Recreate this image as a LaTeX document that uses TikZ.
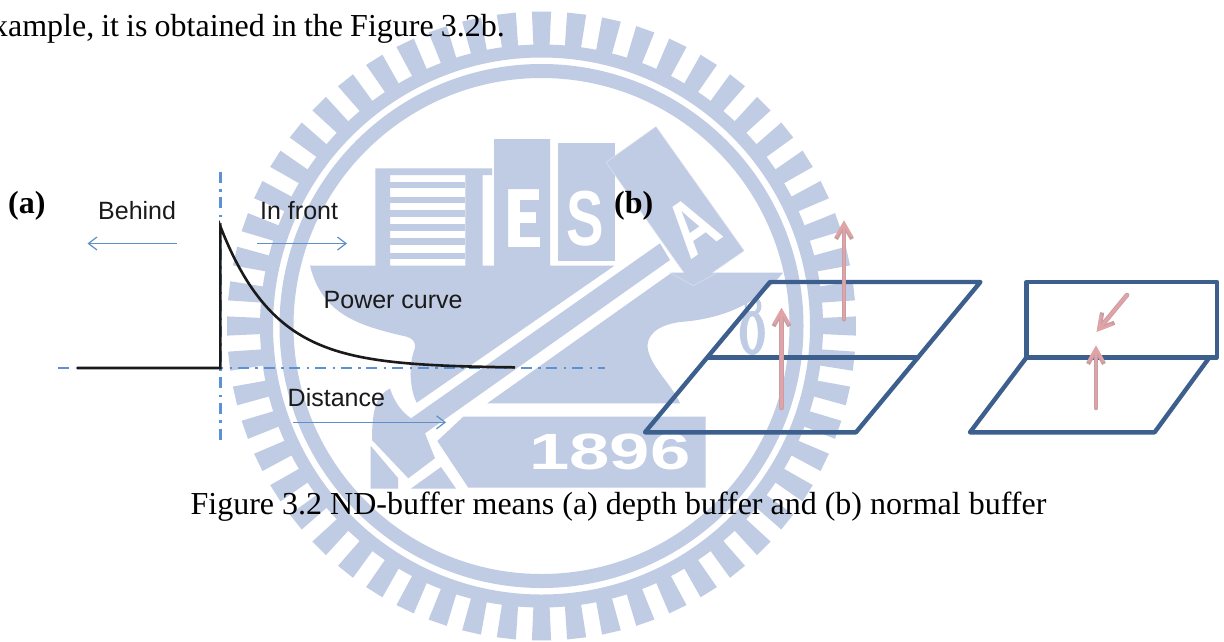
\documentclass[tikz,border=0pt]{standalone}
\usepackage{fontspec}
\setmainfont{Liberation Serif}
\newfontfamily\hvfont{Liberation Sans}
\usetikzlibrary{arrows.meta}
\definecolor{wm}{HTML}{C0CCE4}
\definecolor{wmedge}{HTML}{D6DEEE}
\definecolor{axisblue}{HTML}{5B92D6}
\definecolor{thinblue}{HTML}{5F8FC8}
\definecolor{planeblue}{HTML}{3D5F8E}
\definecolor{pinkedge}{HTML}{C79EA4}
\definecolor{pinkcore}{HTML}{E2A3A6}
\definecolor{ink}{HTML}{1A1A1A}
\tikzset{
  x=1pt,y=-1pt,
  wmletter/.style={text=white,inner sep=0pt,font=\hvfont\bfseries\fontsize{#1}{#1}\selectfont},
  body/.style={inner sep=0pt,text=black,font=\fontsize{32}{32}\selectfont},
  tag/.style={inner sep=0pt,text=black,font=\bfseries\fontsize{32}{32}\selectfont},
  sanslabel/.style={inner sep=0pt,text=ink,font=\hvfont\fontsize{25}{25}\selectfont},
  axisline/.style={draw=axisblue,line width=2.4pt,dash pattern=on 11pt off 6.5pt on 2.5pt off 5.7pt},
  dirarrow/.style={draw=thinblue,line width=1.2pt,-{Straight Barb[length=8.5pt,width=13pt,line width=1.2pt]}},
  curveline/.style={draw=ink,line width=2.6pt,line join=miter},
  plane/.style={draw=planeblue,line width=4.4pt,line join=round,line cap=round},
  normaledge/.style={draw=pinkedge,line width=4.6pt,line cap=round,-{Straight Barb[length=14pt,width=16pt,line width=4.2pt]}},
  normalcore/.style={draw=pinkcore,line width=2.8pt,line cap=round,-{Straight Barb[length=13pt,width=15pt,line width=2.6pt]}},
}
\begin{document}
\begin{tikzpicture}
\useasboundingbox (0,0) rectangle (1224,641);
\clip (0,0) rectangle (1224,641);
\fill[white] (0,0) rectangle (1224,641);

% ---- watermark seal ----
\begin{scope}[shift={(541.5,326)}]
  \draw[wm,line width=14pt] (0,0) circle[radius=255];
  \draw[wm,line width=13pt] (0,0) circle[radius=275];
  \foreach \k in {0,...,55}{
    \pgfmathsetmacro{\a}{90+\k*6.42857}
    \fill[wm] ({\a-1.65}:281) -- ({\a-1.75}:314.5) -- ({\a+1.75}:314.5) -- ({\a+1.65}:281) -- cycle;
  }
\end{scope}
% building
\fill[wm] (375.3,168.3) -- (492,168.3) -- (492,175) -- (482.7,175) -- (482.7,268) -- (465.3,268) -- (465.3,175) -- (390,175) -- (390,267) -- (375.3,267) -- cycle;
\foreach \ya/\yb in {181.7/188.3,197.3/203.3,210/216.7,224/230.7,238.3/245,252.7/259.3}{
  \fill[wm] (390,\ya) rectangle (465.3,\yb);
}
% E block
\fill[wm,even odd rule] (494,139) rectangle (550,269)
  (508,189) -- (539,189) -- (539,200) -- (520,200) -- (520,212) -- (536,212) -- (536,223) -- (520,223) -- (520,237) -- (540,237) -- (540,247) -- (508,247) -- cycle;
% S block
\fill[wm] (558,143) rectangle (615,261);
\node[wmletter=78] (letterS) at (585,219) {\scalebox{.72}[1]{S}};
% A block
\fill[wm,draw=wmedge,line width=.6pt] (656,126.7) -- (744,250.7) -- (693.3,285.7) -- (606,162.3) -- cycle;
% anvil, left of the handle
\fill[wm] (310,265.5) -- (614.7,265.5) -- (416.7,402.7)
  .. controls (410,390) and (408,365) .. (415,348)
  .. controls (416,342) and (412,338) .. (406.7,336.7)
  .. controls (360,326) and (322,315) .. (310,265.5) -- cycle;
% anvil, right of the handle
\fill[wm] (671.7,272.7) -- (783,272.7)
  .. controls (765,295) and (735,318) .. (680,322)
  .. controls (658,325) and (645,335) .. (648,350)
  .. controls (652,368) and (672,385) .. (680,403.3)
  -- (487.3,403.3) -- cycle;
\draw[wmedge,line width=.6pt] (693.3,285.7) -- (670,272.7) (693.3,285.7) -- (717,272.7);
\node[wmletter=78,rotate=35] (letterA) at (692,226) {\scalebox{.75}[1]{A}};
% handle
\fill[wm] (660,243.3) -- (411,418.3)
  .. controls (402,412) and (394,402) .. (390,388.3)
  .. controls (378,395) and (372,405) .. (372,440)
  -- (408.3,478.3) -- (435,458.3) -- (425,433.3) -- (670,260) -- cycle;
\fill[wm] (370.5,445.6) -- (398,478) -- (398,488.5) -- (370.5,488.5) -- cycle;
\fill[wm] (411,488.5) -- (441,467) -- (456,488.5) -- cycle;
% 1896 block
\fill[wm] (463.3,416.7) -- (705.7,416.7) -- (705.7,487.7) -- (468.3,487.7) -- (437.3,441) -- cycle;
\node[wmletter=51] (year) at (610,451.5) {\scalebox{1.42}[1]{1896}};
% small 8
\fill[wm,even odd rule] (752.3,333) ellipse[x radius=12.5,y radius=22] (752.3,333) ellipse[x radius=5.5,y radius=17];
\fill[wm,even odd rule] (753,306) ellipse[x radius=8.5,y radius=9.5] (752,306) ellipse[x radius=5,y radius=6.5];

% ---- text ----
\node[body,anchor=base east] (toptext) at (505,36.5) {\spaceskip=7.1pt xample, it is obtained in the Figure 3.2b.};
\node[body,anchor=base] (caption) at (618.5,514) {Figure 3.2 ND-buffer means (a) depth buffer and (b) normal buffer};
\node[tag,anchor=base west] (taga) at (8,213) {(a)};
\node[tag,anchor=base west] (tagb) at (614,213) {(b)};
\node[sanslabel,anchor=base west] (behind) at (98,219) {Behind};
\node[sanslabel,anchor=base west] (infront) at (260,219) {In front};
\node[sanslabel,anchor=base west] (power) at (323.5,308) {Power curve};
\node[sanslabel,anchor=base west] (distance) at (287.5,406) {Distance};

% ---- panel (a) ----
\coordinate (vtop) at (220.4,171.5);
\coordinate (vbot) at (220.4,443);
\coordinate (hl) at (58,368);
\coordinate (hr) at (605,368);
\draw[axisline] (vtop) -- (vbot);
\draw[axisline] (hl) -- (hr);
\coordinate (behindS) at (176.7,243.5);
\coordinate (behindE) at (87.5,243.5);
\coordinate (frontS) at (257,243.5);
\coordinate (frontE) at (347,243.5);
\coordinate (distS) at (293.4,422.3);
\coordinate (distE) at (446,422.3);
\draw[dirarrow] (behindS) -- (behindE);
\draw[dirarrow] (frontS) -- (frontE);
\draw[dirarrow] (distS) -- (distE);
\coordinate (c0) at (77,368);
\coordinate (c1) at (220.4,368);
\coordinate (c2) at (220.4,226.5);
\draw[curveline] (c0) -- (c1) -- (c2) -- plot[domain=220.4:515,samples=70,smooth] (\x,{368-141.5*exp(-(\x-220.4)/55)});

% ---- panel (b) ----
\coordinate (p1) at (770,282);
\coordinate (p2) at (980.4,282);
\coordinate (p3) at (856,432.3);
\coordinate (p4) at (645,432.3);
\coordinate (m1) at (708.4,357.3);
\coordinate (m2) at (918,357.3);
\draw[plane] (p1) -- (p2) -- (p3) -- (p4) -- cycle;
\draw[plane] (m1) -- (m2);
\coordinate (q1) at (1026.6,282);
\coordinate (q2) at (1217,282);
\coordinate (q3) at (1217,357.3);
\coordinate (q4) at (1026.6,357.3);
\coordinate (q5) at (970,432.3);
\coordinate (q6) at (1154.6,432.3);
\coordinate (q7) at (1209.5,357.3);
\draw[plane] (q1) -- (q2) -- (q3) -- (q4) -- cycle;
\draw[plane] (q4) -- (q5) -- (q6) -- (q7);
\coordinate (n1s) at (844,319.3);
\coordinate (n1e) at (844,220.7);
\coordinate (n2s) at (781.5,408);
\coordinate (n2e) at (781.5,308);
\coordinate (n3s) at (1096,408);
\coordinate (n3e) at (1096,345.7);
\coordinate (n4s) at (1127,295);
\coordinate (n4e) at (1096.7,331.7);
\foreach \s/\e in {n1s/n1e,n2s/n2e,n3s/n3e,n4s/n4e}{
  \draw[normaledge] (\s) -- (\e);
  \draw[normalcore] (\s) -- (\e);
}
\end{tikzpicture}
\end{document}
